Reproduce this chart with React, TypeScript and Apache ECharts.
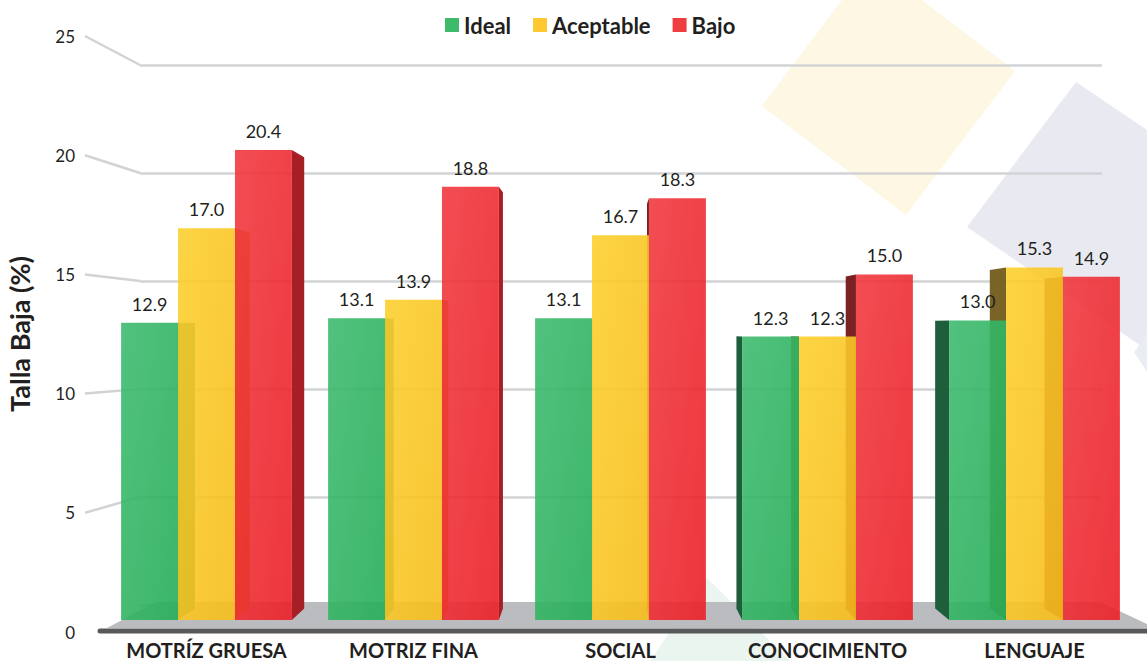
import React, { useEffect, useRef } from "react";
import * as echarts from "echarts";

const categories = ["MOTRÍZ GRUESA", "MOTRIZ FINA", "SOCIAL", "CONOCIMIENTO", "LENGUAJE"];
const seriesNames = ["Ideal", "Aceptable", "Bajo"];
const ideal = [12.9, 13.1, 13.1, 12.3, 13.0];
const aceptable = [17.0, 13.9, 16.7, 12.3, 15.3];
const bajo = [20.4, 18.8, 18.3, 15.0, 14.9];
const yTicks = [0, 5, 10, 15, 20, 25];

const W = 1147;
const H = 661;
const Y_MAX = 25;
const BAR_GRID = { left: 103, right: 9, top: 44, bottom: 41 };
const LABEL_GRID = { left: 85, right: 1000, top: 36, bottom: 29 };
const BACK_GRID = { left: 140, right: 45, top: 65, bottom: 56 };
const VP = { x: 600, y: 330, k: 0.04 };
const FONT = "Lato";

const FRONT = [
  ["#3fbb70", "#26ae58"],
  ["#fcd02f", "#f7bd1c"],
  ["#f03a40", "#eb2027"],
];
const SIDE_R = ["#1f7c46", "#c79c1c", "#a61f25"];
const SIDE_L = ["#1e5e3b", "#7a6326", "#7a2124"];
const LEGEND = ["#3dbb6b", "#fdc830", "#ee3e42"];

const allValues = [ideal, aceptable, bajo];

function barGeom(api: any, s: number) {
  const cat = api.value(0);
  const v = api.value(1);
  const top = api.coord([cat, v]);
  const base = api.coord([cat, 0]);
  const band = api.size([1, 0])[0];
  const bw = band * 0.275;
  const x0 = top[0] + (s - 1.5) * bw;
  return { v, x0, bw, top: top[1], base: base[1] };
}

export default function App() {
  const ref = useRef<HTMLDivElement>(null);
  useEffect(() => {
    if (!ref.current) return;
    const chart = echarts.init(ref.current, undefined, { renderer: "svg" });

    const frontSeries = seriesNames.map((name, s) => ({
      name,
      type: "custom",
      xAxisIndex: 0,
      yAxisIndex: 0,
      z: 3,
      itemStyle: { color: LEGEND[s] },
      data: allValues[s].map((v, i) => [i, v]),
      renderItem: (params: any, api: any) => {
        const g = barGeom(api, s);
        return {
          type: "group",
          children: [
            {
              type: "rect",
              shape: { x: g.x0, y: g.top, width: g.bw, height: g.base - g.top },
              style: {
                fill: new echarts.graphic.LinearGradient(0, 0, 1, 1, [
                  { offset: 0, color: FRONT[s][0] },
                  { offset: 1, color: FRONT[s][1] },
                ]),
                opacity: 0.9,
              },
            },
            {
              type: "text",
              style: {
                text: g.v.toFixed(1),
                x: g.x0 + g.bw / 2,
                y: g.top - 19,
                align: "center",
                verticalAlign: "middle",
                fill: "#231f20",
                font: `18px ${FONT}`,
              },
            },
          ],
        };
      },
    }));

    const sideSeries = seriesNames.map((name, s) => ({
      name: name + "-side",
      type: "custom",
      xAxisIndex: 0,
      yAxisIndex: 0,
      z: 2,
      silent: true,
      data: allValues[s].map((v, i) => [i, v]),
      renderItem: (params: any, api: any) => {
        const g = barGeom(api, s);
        const xl = g.x0;
        const xr = g.x0 + g.bw;
        let edge: number;
        let color: string;
        if (xr < VP.x) {
          edge = xr;
          color = SIDE_R[s];
        } else if (xl > VP.x) {
          edge = xl;
          color = SIDE_L[s];
        } else return null;
        const dx = (VP.x - edge) * VP.k;
        const tb = g.top + (VP.y - g.top) * VP.k;
        const bb = g.base + (VP.y - g.base) * VP.k;
        return {
          type: "polygon",
          shape: {
            points: [
              [edge, g.top],
              [edge + dx, tb],
              [edge + dx, bb],
              [edge, g.base],
            ],
          },
          style: { fill: color },
        };
      },
    }));

    const backH = H - BACK_GRID.top - BACK_GRID.bottom;
    const diagSeries = {
      name: "diag",
      type: "custom",
      xAxisIndex: 1,
      yAxisIndex: 1,
      z: 1,
      silent: true,
      data: yTicks.filter((t) => t > 0).map((t) => [0, t]),
      renderItem: (params: any, api: any) => {
        const v = api.value(1);
        const p = api.coord([0, v]);
        const by = BACK_GRID.top + ((Y_MAX - v) / Y_MAX) * backH;
        return {
          type: "line",
          shape: { x1: p[0], y1: p[1], x2: BACK_GRID.left, y2: by },
          style: { stroke: "#d2d3d5", lineWidth: 2.5 },
        };
      },
    };

    const floorBackY = H - BACK_GRID.bottom - 3;
    const floorFrontY = H - BAR_GRID.bottom + 8;

    chart.setOption({
      animation: false,
      backgroundColor: "#ffffff",
      textStyle: { fontFamily: FONT },
      legend: {
        data: seriesNames,
        left: 440,
        top: 9,
        icon: "rect",
        itemWidth: 14,
        itemHeight: 14,
        itemGap: 22,
        selectedMode: false,
        textStyle: { fontSize: 22, fontWeight: "bold", color: "#231f20", fontFamily: FONT },
      },
      grid: [
        { ...BAR_GRID },
        { ...LABEL_GRID },
        { ...BACK_GRID },
      ],
      xAxis: [
        {
          type: "category",
          gridIndex: 0,
          data: categories,
          axisLine: { show: false },
          axisTick: { show: false },
          axisLabel: {
            margin: 20,
            fontSize: 20,
            fontWeight: "bold",
            color: "#231f20",
            fontFamily: FONT,
            interval: 0,
          },
        },
        { type: "value", gridIndex: 1, min: 0, max: 1, show: false },
        { type: "value", gridIndex: 2, min: 0, max: 1, show: false },
      ],
      yAxis: [
        { type: "value", gridIndex: 0, min: 0, max: Y_MAX, show: false },
        {
          type: "value",
          gridIndex: 1,
          min: 0,
          max: Y_MAX,
          interval: 5,
          axisLine: { show: false },
          axisTick: { show: false },
          splitLine: { show: false },
          axisLabel: { fontSize: 17, color: "#231f20", margin: 10, fontFamily: FONT },
          name: "Talla Baja (%)",
          nameLocation: "middle",
          nameGap: 52,
          nameRotate: 90,
          nameTextStyle: { fontSize: 27, fontWeight: "bold", color: "#231f20", fontFamily: FONT },
        },
        {
          type: "value",
          gridIndex: 2,
          min: 0,
          max: Y_MAX,
          interval: 5,
          axisLine: { show: false },
          axisTick: { show: false },
          axisLabel: { show: false },
          splitLine: { lineStyle: { color: "#d2d3d5", width: 2.5 } },
        },
      ],
      graphic: [
        {
          type: "polygon",
          z: -5,
          silent: true,
          shape: { points: [[762, 106], [842, 0], [922, 0], [1015, 71], [906, 215]] },
          style: { fill: "#fdf7e3" },
        },
        {
          type: "polygon",
          z: -5,
          silent: true,
          shape: { points: [[1076, 82], [1147, 130], [1147, 350], [967, 227]] },
          style: { fill: "#e8e9f1" },
        },
        {
          type: "polygon",
          z: -5,
          silent: true,
          shape: { points: [[1147, 335], [1147, 372], [1134, 352]] },
          style: { fill: "#e9eef5" },
        },
        {
          type: "polygon",
          z: -5,
          silent: true,
          shape: { points: [[707, 578], [790, 661], [650, 661]] },
          style: { fill: "#ebf5f0" },
        },
        {
          type: "polygon",
          z: 1,
          silent: true,
          shape: {
            points: [
              [156, floorBackY],
              [1100, floorBackY],
              [W, floorBackY + 22],
              [W, floorFrontY],
              [107, floorFrontY],
            ],
          },
          style: { fill: "#bbbcbf" },
        },
        {
          type: "line",
          z: 1,
          silent: true,
          shape: { x1: 100, y1: floorFrontY + 3, x2: W, y2: floorFrontY + 3 },
          style: { stroke: "#58595b", lineWidth: 5, lineCap: "round" },
        },
      ],
      series: [...frontSeries, ...sideSeries, diagSeries],
    });

    return () => chart.dispose();
  }, []);

  return <div ref={ref} style={{ width: W, height: H, position: "absolute", left: 0, top: 0 }} />;
}
